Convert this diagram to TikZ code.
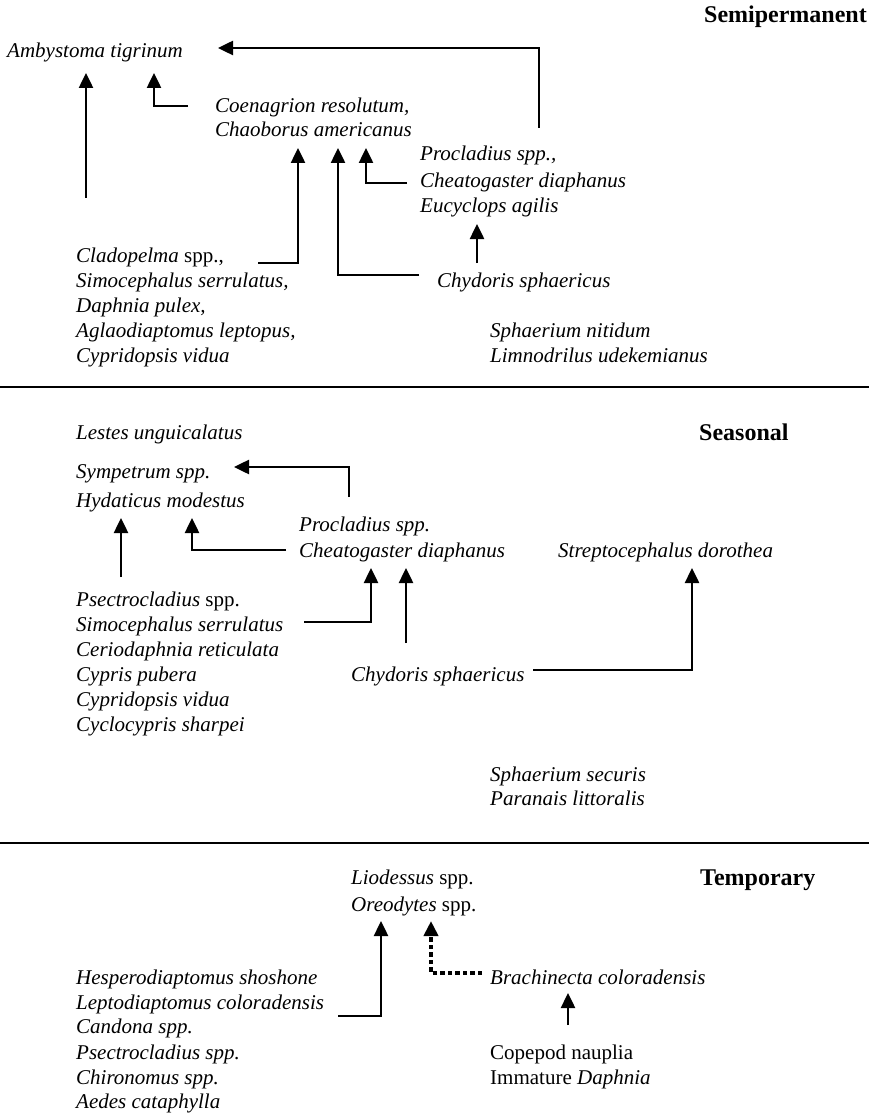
\documentclass[tikz,border=0pt]{standalone}
\usepackage{fontspec}
\setmainfont{Liberation Serif}
\usetikzlibrary{arrows.meta}
\begin{document}
\begin{tikzpicture}[x=1pt,y=-1pt,
  sp/.style={anchor=base west, inner sep=0pt, font=\fontsize{21}{25}\selectfont\itshape},
  rm/.style={anchor=base west, inner sep=0pt, font=\fontsize{21}{25}\selectfont\upshape},
  hd/.style={anchor=base west, inner sep=0pt, font=\fontsize{24}{28}\selectfont\bfseries},
  arr/.style={line width=2.5pt, -{Triangle[width=14pt,length=15pt]}},
  darr/.style={line width=4pt, dash pattern=on 4.5pt off 3pt, -{Triangle[width=14pt,length=15pt]}},
  sep/.style={line width=2.2pt}]
\useasboundingbox (0,0) rectangle (869,1115);
% ---------- Semipermanent ----------
\node[hd, anchor=base east] (semi) at (867,23) {Semipermanent};
\node[sp] (amb) at (7,58) {Ambystoma tigrinum};
\node[sp] (coe) at (215,113) {Coenagrion resolutum,};
\node[sp] (chao) at (215,137) {Chaoborus americanus};
\node[sp] (pro1) at (420,161) {Procladius spp.,};
\node[sp] (che1) at (420,188) {Cheatogaster diaphanus};
\node[sp] (euc) at (420,213) {Eucyclops agilis};
\node[sp] (cla) at (76,262) {Cladopelma \upshape spp.,};
\node[sp] (sim1) at (76,287) {Simocephalus serrulatus,};
\node[sp] (dap) at (76,312) {Daphnia pulex,};
\node[sp] (agl) at (76,337) {Aglaodiaptomus leptopus,};
\node[sp] (cyp1) at (76,362) {Cypridopsis vidua};
\node[sp] (chy1) at (437,287) {Chydoris sphaericus};
\node[sp] (sph1) at (490,337) {Sphaerium nitidum};
\node[sp] (lim) at (490,362) {Limnodrilus udekemianus};
\coordinate (l1a) at (0,387); \coordinate (l1b) at (869,387);
\draw[sep] (l1a) -- (l1b);
% arrows
\coordinate (a1s) at (539,128); \coordinate (a1t) at (218,48);
\draw[arr] (a1s) |- (a1t);
\coordinate (a2s) at (86,198); \coordinate (a2t) at (86,73);
\draw[arr] (a2s) -- (a2t);
\coordinate (a3s) at (188,106); \coordinate (a3t) at (154,73);
\draw[arr] (a3s) -| (a3t);
\coordinate (a4s) at (258,263); \coordinate (a4t) at (298,148);
\draw[arr] (a4s) -| (a4t);
\coordinate (a5s) at (419,275); \coordinate (a5t) at (338,148);
\draw[arr] (a5s) -| (a5t);
\coordinate (a6s) at (407,183); \coordinate (a6t) at (366,148);
\draw[arr] (a6s) -| (a6t);
\coordinate (a7s) at (477,263); \coordinate (a7t) at (477,224);
\draw[arr] (a7s) -- (a7t);
% ---------- Seasonal ----------
\node[hd] (seas) at (699,440) {Seasonal};
\node[sp] (les) at (76,439) {Lestes unguicalatus};
\node[sp] (sym) at (76,478) {Sympetrum spp.};
\node[sp] (hyd) at (76,507) {Hydaticus modestus};
\node[sp] (pro2) at (299,531) {Procladius spp.};
\node[sp] (che2) at (299,557) {Cheatogaster diaphanus};
\node[sp] (str) at (558,557) {Streptocephalus dorothea};
\node[sp] (pse2) at (76,606) {Psectrocladius \upshape spp.};
\node[sp] (sim2) at (76,631) {Simocephalus serrulatus};
\node[sp] (cer) at (76,656) {Ceriodaphnia reticulata};
\node[sp] (cypr) at (76,681) {Cypris pubera};
\node[sp] (cyp2) at (76,706) {Cypridopsis vidua};
\node[sp] (cyc) at (76,731) {Cyclocypris sharpei};
\node[sp] (chy2) at (351,681) {Chydoris sphaericus};
\node[sp] (sph2) at (490,781) {Sphaerium securis};
\node[sp] (par) at (490,805) {Paranais littoralis};
\coordinate (l2a) at (0,843); \coordinate (l2b) at (869,843);
\draw[sep] (l2a) -- (l2b);
\coordinate (b1s) at (349,497); \coordinate (b1t) at (234,467);
\draw[arr] (b1s) |- (b1t);
\coordinate (b2s) at (286,550); \coordinate (b2t) at (192,518);
\draw[arr] (b2s) -| (b2t);
\coordinate (b3s) at (121,577); \coordinate (b3t) at (121,518);
\draw[arr] (b3s) -- (b3t);
\coordinate (b4s) at (304,622); \coordinate (b4t) at (371,568);
\draw[arr] (b4s) -| (b4t);
\coordinate (b5s) at (406,643); \coordinate (b5t) at (406,568);
\draw[arr] (b5s) -- (b5t);
\coordinate (b6s) at (533,670); \coordinate (b6t) at (692,568);
\draw[arr] (b6s) -| (b6t);
% ---------- Temporary ----------
\node[hd] (temp) at (700,885) {Temporary};
\node[sp] (lio) at (351,884) {Liodessus \upshape spp.};
\node[sp] (ore) at (351,911) {Oreodytes \upshape spp.};
\node[sp] (hes) at (76,984) {Hesperodiaptomus shoshone};
\node[sp] (lep) at (76,1009) {Leptodiaptomus coloradensis};
\node[sp] (can) at (76,1033) {Candona spp.};
\node[sp] (pse3) at (76,1059) {Psectrocladius spp.};
\node[sp] (chi) at (76,1084) {Chironomus spp.};
\node[sp] (aed) at (76,1108) {Aedes cataphylla};
\node[sp] (bra) at (490,984) {Brachinecta coloradensis};
\node[rm] (cop) at (490,1059) {Copepod nauplia};
\node[rm] (imm) at (490,1084) {Immature \itshape Daphnia};
\coordinate (c1s) at (338,1016); \coordinate (c1t) at (381,921);
\draw[arr] (c1s) -| (c1t);
\coordinate (c2s) at (482,973); \coordinate (c2t) at (431,921);
\draw[darr] (c2s) -| (c2t);
\coordinate (c3s) at (568,1025); \coordinate (c3t) at (568,993);
\draw[arr] (c3s) -- (c3t);
\end{tikzpicture}
\end{document}
